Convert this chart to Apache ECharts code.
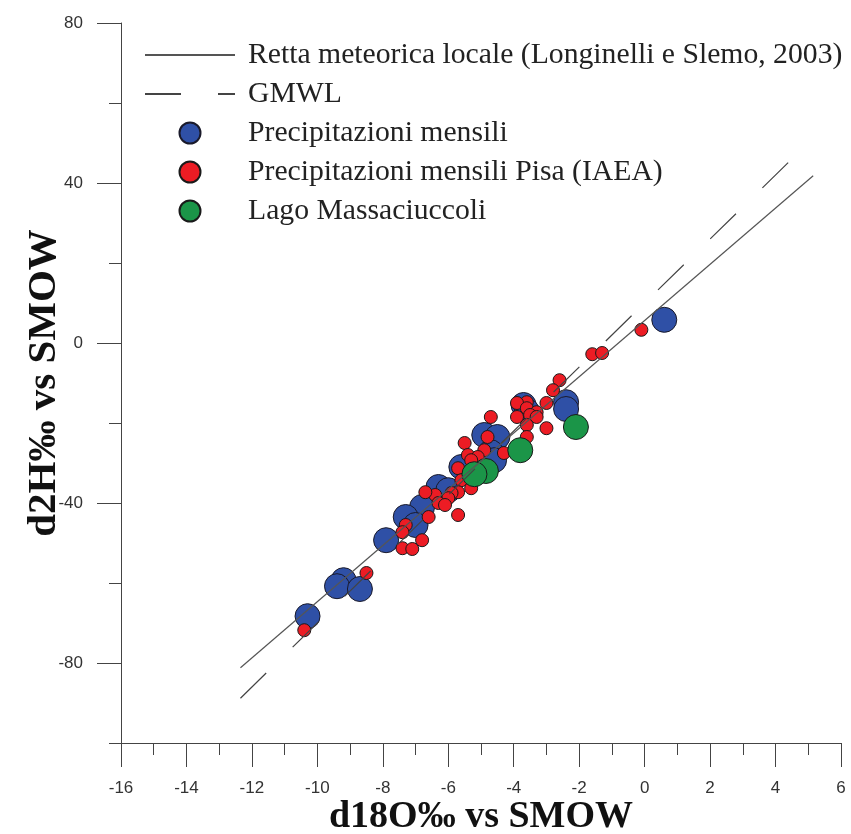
<!DOCTYPE html>
<html>
<head>
<meta charset="utf-8">
<script src="https://cdn.jsdelivr.net/npm/echarts@6/dist/echarts.min.js"></script>
<style>
  html, body { margin: 0; padding: 0; background: #fff; }
  #chart { width: 851px; height: 834px; }
</style>
</head>
<body>
<div id="chart"></div>
<script>
// Series names as shown in the legend
const nameLocal = 'Retta meteorica locale (Longinelli e Slemo, 2003)';
const nameGmwl = 'GMWL';
const nameMensili = 'Precipitazioni mensili';
const namePisa = 'Precipitazioni mensili Pisa (IAEA)';
const nameLago = 'Lago Massaciuccoli';

// Reference lines: end points [d18O, d2H]
const localLine = [[-12.35, -81.2], [5.15, 41.8]];
const gmwlLine = [[-12.35, -88.8], [5.15, 51.2]];

// Monthly precipitation samples [d18O, d2H]
const precipMensili = [
  [0.6, 5.8], [-2.4, -14.8], [-2.4, -16.5], [-3.7, -15.5], [-3.6, -17.0],
  [-4.9, -23.0], [-4.5, -23.5], [-4.7, -27.3], [-4.6, -29.3], [-5.6, -31.0],
  [-6.3, -36.0], [-6.0, -36.8], [-6.8, -41.0], [-7.3, -43.5], [-7.0, -45.5],
  [-7.9, -49.3], [-9.2, -59.3], [-9.4, -60.8], [-8.7, -61.5], [-10.3, -68.3]
];

// Monthly precipitation, Pisa IAEA station [d18O, d2H]
const precipPisa = [
  [-0.1, 3.3], [-1.6, -2.8], [-1.3, -2.5], [-2.6, -9.3], [-2.8, -11.8],
  [-3.0, -15.0], [-3.6, -14.8], [-3.9, -15.0], [-3.6, -16.3], [-3.3, -17.3],
  [-3.9, -18.5], [-3.5, -18.0], [-3.3, -18.5], [-3.6, -20.5], [-4.7, -18.5],
  [-3.0, -21.3], [-4.8, -23.5], [-3.6, -23.5], [-5.5, -25.0], [-4.9, -26.8],
  [-4.3, -27.5], [-5.4, -28.0], [-5.1, -28.5], [-5.3, -29.3], [-5.7, -31.3],
  [-5.6, -34.3], [-5.3, -36.3], [-5.7, -37.3], [-5.9, -37.5], [-6.0, -38.8],
  [-6.4, -38.0], [-6.7, -37.3], [-6.3, -40.0], [-6.1, -40.5], [-5.7, -43.0],
  [-6.6, -43.5], [-7.3, -45.5], [-7.4, -47.3], [-6.8, -49.3], [-7.4, -51.3],
  [-7.1, -51.5], [-8.5, -57.5], [-10.4, -71.8]
];

// Lake samples [d18O, d2H]
const lagoMassaciuccoli = [
  [-2.1, -21.0], [-3.8, -26.8], [-4.85, -32.0], [-5.2, -32.8]
];

// Axis ranges and tick values
const xMin = -16, xMax = 6, xStep = 2;
const yMin = -100, yMax = 80, yStep = 20;
const yLabelValues = [-80, -40, 0, 40, 80];
const yShortTickValues = [-100, -60, -20, 20, 60];

const plotBox = {
  left: 121, top: 23, width: 720, height: 720,
  containLabel: false, outerBoundsMode: 'none'
};
const axisColor = '#444';
const tickLine = { color: axisColor, width: 1 };
const labelFont = { fontFamily: 'Liberation Sans', fontSize: 17, color: '#333' };
const titleFont = { fontFamily: 'Liberation Serif', fontWeight: 'bold', color: '#111' };
const noMarker = { color: 'rgba(0,0,0,0)', borderWidth: 0, opacity: 0 };

// Overlay y axis (own grid) drawing ticks only, sitting on the zero of its x helper
function tickOnlyYAxis(gridIndex, values, length) {
  return {
    gridIndex,
    type: 'value',
    min: yMin,
    max: yMax,
    position: 'left',
    axisLine: { show: false, onZero: true },
    axisTick: { show: true, length, customValues: values, lineStyle: tickLine },
    axisLabel: { show: false },
    splitLine: { show: false }
  };
}
// Blank x axis whose zero lies on the left edge of the plot box
function helperXAxis(gridIndex) {
  return {
    gridIndex, type: 'value', min: 0, max: 1,
    axisLine: { show: false, onZero: false },
    axisTick: { show: false },
    axisLabel: { show: false },
    splitLine: { show: false }
  };
}

const chart = echarts.init(document.getElementById('chart'), null, { renderer: 'canvas' });

chart.setOption({
  animation: false,
  backgroundColor: '#fff',
  grid: [Object.assign({}, plotBox), Object.assign({}, plotBox), Object.assign({}, plotBox)],
  legend: {
    orient: 'vertical',
    left: 139,
    top: 35,
    itemWidth: 90,
    itemHeight: 21,
    itemGap: 9,
    selectedMode: false,
    data: [
      { name: nameLocal, itemStyle: noMarker },
      { name: nameGmwl, itemStyle: noMarker },
      nameMensili, namePisa, nameLago
    ],
    textStyle: {
      fontFamily: 'Liberation Serif',
      fontSize: 29.7,
      color: '#222',
      padding: [0, 0, 0, 8]
    }
  },
  xAxis: [
    {
      gridIndex: 0,
      type: 'value',
      min: xMin,
      max: xMax,
      interval: xStep,
      name: 'd18O‰ vs SMOW',
      nameLocation: 'middle',
      nameGap: 55,
      nameMoveOverlap: false,
      nameTextStyle: Object.assign({ fontSize: 38 }, titleFont),
      axisLine: { show: true, onZero: false, lineStyle: tickLine },
      axisTick: { show: true, length: 24, lineStyle: tickLine },
      minorTick: { show: true, splitNumber: 2, length: 12, lineStyle: tickLine },
      splitLine: { show: false },
      minorSplitLine: { show: false },
      axisLabel: Object.assign({ margin: 37 }, labelFont)
    },
    helperXAxis(1),
    helperXAxis(2)
  ],
  yAxis: [
    {
      gridIndex: 0,
      type: 'value',
      min: yMin,
      max: yMax,
      interval: yStep,
      position: 'left',
      name: 'd2H‰ vs SMOW',
      nameLocation: 'middle',
      nameGap: 56,
      nameMoveOverlap: false,
      nameTextStyle: Object.assign({ fontSize: 41 }, titleFont),
      axisLine: { show: true, onZero: false, lineStyle: tickLine },
      axisTick: { show: false },
      splitLine: { show: false },
      axisLabel: Object.assign({
        margin: 38,
        formatter: v => (yLabelValues.indexOf(v) >= 0 ? String(v) : '')
      }, labelFont)
    },
    tickOnlyYAxis(1, yLabelValues, 24),
    tickOnlyYAxis(2, yShortTickValues, 12)
  ],
  series: [
    {
      name: nameLocal,
      type: 'line',
      data: localLine,
      symbol: 'none',
      itemStyle: noMarker,
      lineStyle: { color: '#555', width: 1.2, type: 'solid' },
      silent: true
    },
    {
      name: nameGmwl,
      type: 'line',
      data: gmwlLine,
      symbol: 'none',
      itemStyle: noMarker,
      lineStyle: { color: '#444', width: 1.2, type: [36, 37] },
      silent: true
    },
    {
      name: nameMensili,
      type: 'scatter',
      data: precipMensili,
      symbol: 'circle',
      symbolSize: 25,
      itemStyle: { color: '#2f50a6', borderColor: '#1a1a2a', borderWidth: 1, opacity: 1 }
    },
    {
      name: namePisa,
      type: 'scatter',
      data: precipPisa,
      symbol: 'circle',
      symbolSize: 13,
      itemStyle: { color: '#ec1c24', borderColor: '#1a1a1a', borderWidth: 1, opacity: 1 }
    },
    {
      name: nameLago,
      type: 'scatter',
      data: lagoMassaciuccoli,
      symbol: 'circle',
      symbolSize: 25,
      itemStyle: { color: '#1b9548', borderColor: '#1a1a1a', borderWidth: 1, opacity: 1 }
    }
  ]
});
</script>
</body>
</html>
